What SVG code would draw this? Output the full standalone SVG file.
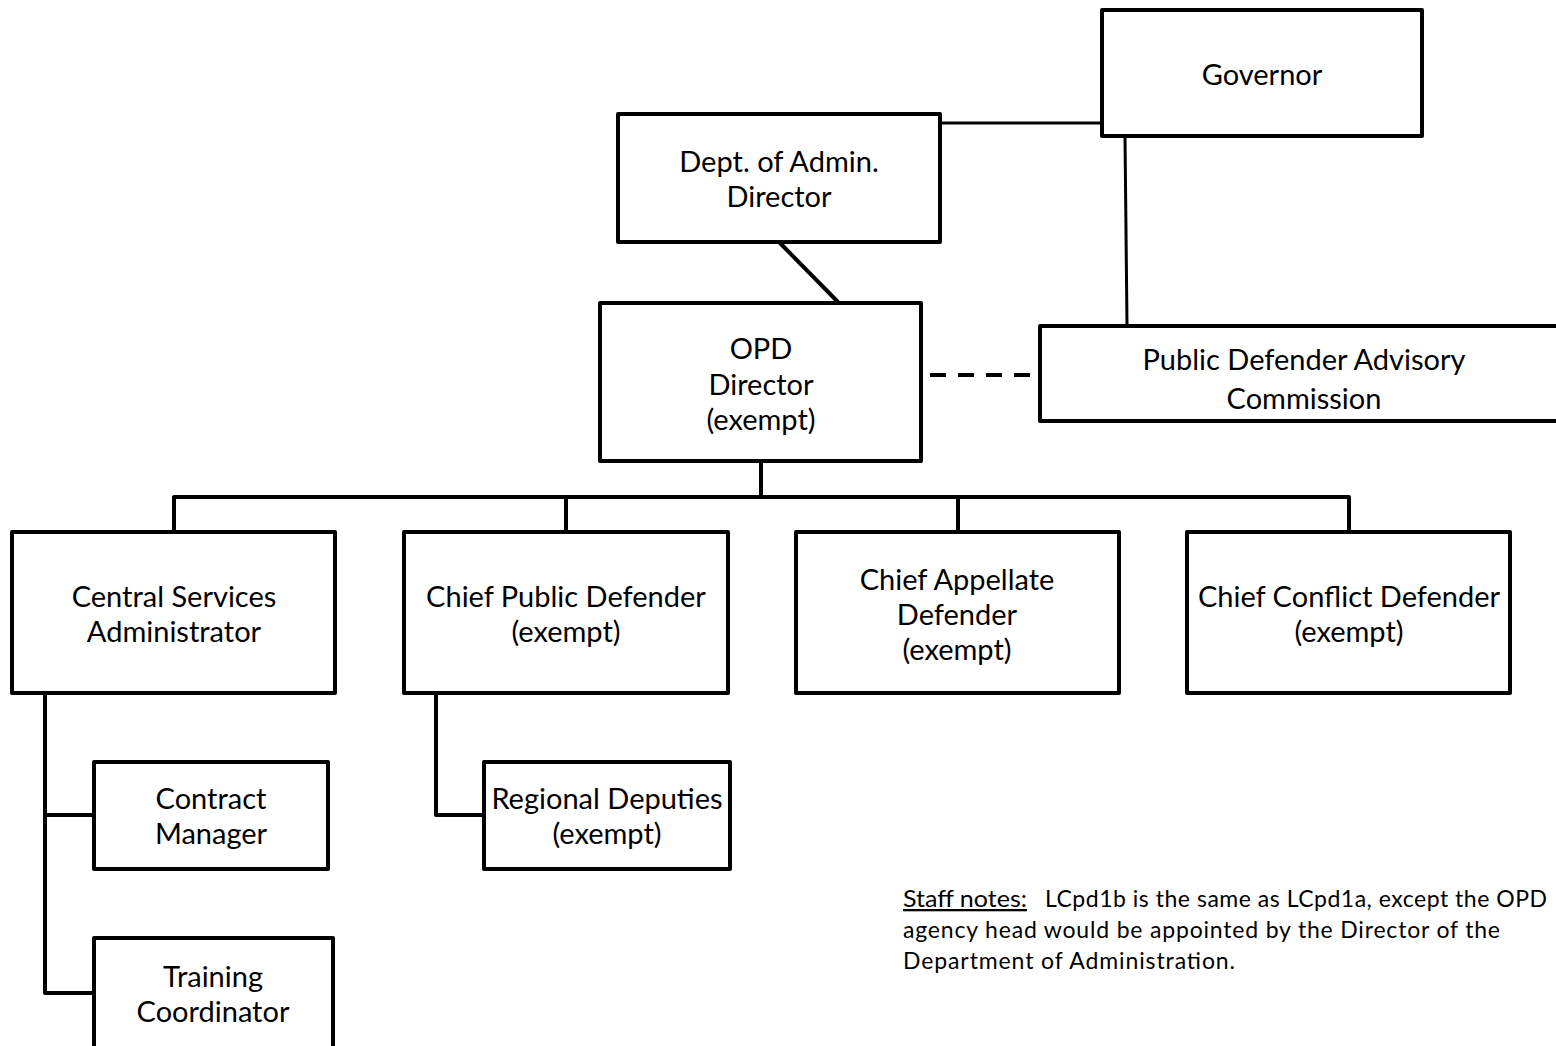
<svg xmlns="http://www.w3.org/2000/svg" width="1556" height="1046" viewBox="0 0 1556 1046">
<style>
.box{fill:#fff;stroke:#000;stroke-width:4;stroke-linejoin:round}
.t{font-family:Lato,"Liberation Sans",sans-serif;font-size:29px;fill:#000;text-anchor:middle;dominant-baseline:central}
.n{font-family:Lato,"Liberation Sans",sans-serif;font-size:23px;fill:#000}
.c{fill:none;stroke:#000;stroke-width:4;stroke-linejoin:round}
.c3{fill:none;stroke:#000;stroke-width:3}
</style>
<rect width="1556" height="1046" fill="#fff"/>
<g id="connectors">
<line class="c3" x1="940" y1="123" x2="1102" y2="123"/>
<line class="c3" x1="1125" y1="137" x2="1127" y2="325"/>
<line class="c" x1="780" y1="243" x2="838" y2="302"/>
<line class="c" x1="930" y1="375" x2="1030" y2="375" stroke-dasharray="16 12"/>
<polyline class="c" points="761,462 761,497"/>
<polyline class="c" points="174,531 174,497 1349,497 1349,531"/>
<line class="c" x1="566" y1="497" x2="566" y2="531"/>
<line class="c" x1="958" y1="497" x2="958" y2="531"/>
<polyline class="c" points="45,694 45,993 93,993"/>
<line class="c" x1="45" y1="815" x2="93" y2="815"/>
<polyline class="c" points="436,694 436,815 483,815"/>
</g>
<g id="governor"><rect class="box" x="1102" y="10" width="320" height="126"/><text class="t" x="1262" y="73">Governor</text></g>
<g id="dept-admin"><rect class="box" x="618" y="114" width="322" height="128"/><text class="t" x="779" y="160">Dept. of Admin.</text><text class="t" x="779" y="195">Director</text></g>
<g id="opd-director"><rect class="box" x="600" y="303" width="321" height="158"/><text class="t" x="761" y="347">OPD</text><text class="t" x="761" y="383">Director</text><text class="t" x="761" y="418">(exempt)</text></g>
<g id="pdac"><rect class="box" x="1040" y="326" width="600" height="95"/><text class="t" x="1304" y="358">Public Defender Advisory</text><text class="t" x="1304" y="397">Commission</text></g>
<g id="central-services"><rect class="box" x="12" y="532" width="323" height="161"/><text class="t" x="174" y="595">Central Services</text><text class="t" x="174" y="630">Administrator</text></g>
<g id="chief-public"><rect class="box" x="404" y="532" width="324" height="161"/><text class="t" x="566" y="595">Chief Public Defender</text><text class="t" x="566" y="630">(exempt)</text></g>
<g id="chief-appellate"><rect class="box" x="796" y="532" width="323" height="161"/><text class="t" x="957" y="578">Chief Appellate</text><text class="t" x="957" y="613">Defender</text><text class="t" x="957" y="648">(exempt)</text></g>
<g id="chief-conflict"><rect class="box" x="1187" y="532" width="323" height="161"/><text class="t" x="1349" y="595">Chief Conflict Defender</text><text class="t" x="1349" y="630">(exempt)</text></g>
<g id="contract-manager"><rect class="box" x="94" y="762" width="234" height="107"/><text class="t" x="211" y="797">Contract</text><text class="t" x="211" y="832">Manager</text></g>
<g id="regional-deputies"><rect class="box" x="484" y="762" width="246" height="107"/><text class="t" x="607" y="797">Regional Deputies</text><text class="t" x="607" y="832">(exempt)</text></g>
<g id="training-coordinator"><rect class="box" x="94" y="938" width="239" height="130"/><text class="t" x="213" y="975">Training</text><text class="t" x="213" y="1010">Coordinator</text></g>
<g id="staff-notes">
<text class="n" x="903" y="907" text-decoration="underline" textLength="124" lengthAdjust="spacingAndGlyphs">Staff notes:</text>
<text class="n" x="1045" y="907" textLength="502" lengthAdjust="spacing">LCpd1b is the same as LCpd1a, except the OPD</text>
<text class="n" x="903" y="938" textLength="597" lengthAdjust="spacing">agency head would be appointed by the Director of the</text>
<text class="n" x="903" y="969" textLength="332" lengthAdjust="spacing">Department of Administration.</text>
</g>
</svg>
